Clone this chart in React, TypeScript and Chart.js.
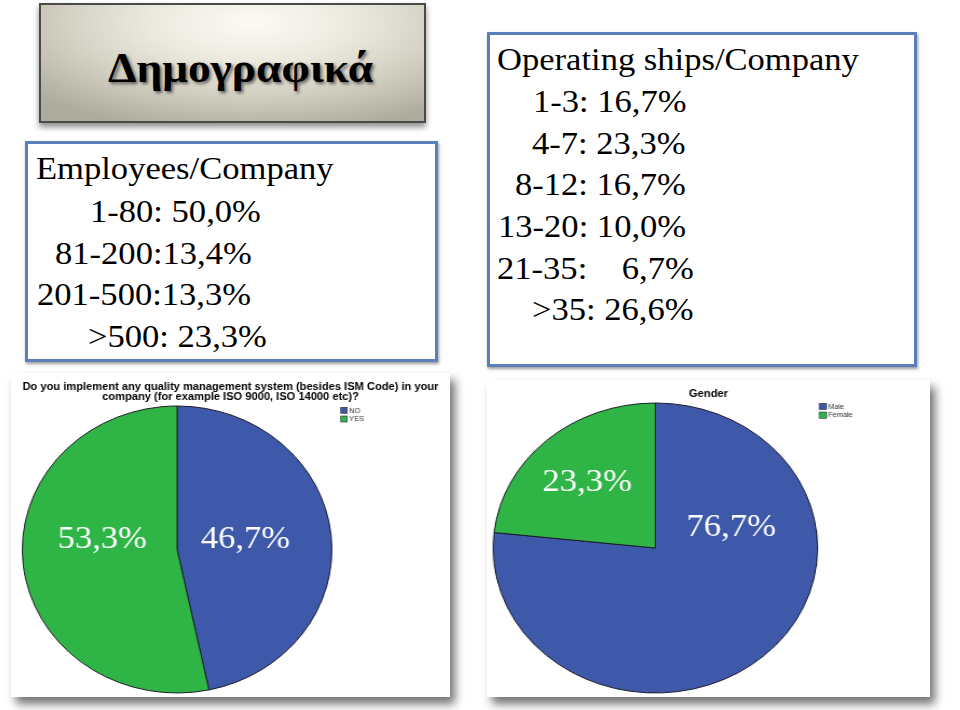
import React, { useEffect, useRef } from 'react';
import { Chart, registerables } from 'chart.js';

Chart.register(...registerables);

// ---------- data ----------
const QMS_TITLE = [
  'Do you implement any quality management system (besides ISM Code) in your',
  'company (for example ISO 9000, ISO 14000 etc)?',
];
const QMS_LABELS = ['NO', 'YES'];
const QMS_VALUES = [46.7, 53.3];
const QMS_TEXTS = ['46,7%', '53,3%'];

const GENDER_TITLE = ['Gender'];
const GENDER_LABELS = ['Male', 'Female'];
const GENDER_VALUES = [76.7, 23.3];
const GENDER_TEXTS = ['76,7%', '23,3%'];

const SLICE_COLORS = ['#3e58aa', '#2fb545'];

const SLIDE_TITLE = 'Δημογραφικά';
const EMPLOYEE_LINES = ['Employees/Company', '1-80: 50,0%', '81-200:13,4%', '201-500:13,3%', '>500: 23,3%'];
const SHIP_LINES = [
  'Operating ships/Company',
  '1-3: 16,7%',
  '4-7: 23,3%',
  '8-12: 16,7%',
  '13-20: 10,0%',
  '21-35:    6,7%',
  '>35: 26,6%',
];

// ---------- layout (not data) ----------
const EMPLOYEE_POS = [
  [36, 179],
  [90, 222],
  [55, 263.5],
  [36.5, 305],
  [88, 346.7],
];
const SHIP_POS = [
  [497, 70],
  [533, 112],
  [531.5, 153.5],
  [515, 195],
  [498, 236.7],
  [497, 278.3],
  [531.5, 320],
];

const SERIF = '"Liberation Serif", "Times New Roman", Times, serif';
const SANS = '"Liberation Sans", Arial, Helvetica, sans-serif';
const TEXT_SX = 1.08;

type PieCfg = {
  labels: string[];
  values: number[];
  texts: string[];
  title: string[];
  titleSize: number;
  titleLineHeight: number;
  titlePadTop: number;
  titlePadBottom: number;
  padBottom: number;
  areaLeft: number;
  areaRight: number;
  labelOffsets: number[][];
  labelSize: number;
  legend: { x: number; y: number; step: number; box: number; textX: number; size: number };
  cw: number;
  ch: number;
  sx: number;
  left: number;
  top: number;
  width: number;
  height: number;
};

function makeAreaPlugin(left: number, right: number) {
  return {
    id: 'pieArea',
    afterLayout(chart: any) {
      const a = chart.chartArea;
      a.left = left;
      a.right = right;
      a.width = right - left;
    },
  };
}

function makeLabelPlugin(texts: string[], offsets: number[][], size: number) {
  return {
    id: 'sliceLabels',
    afterDatasetsDraw(chart: any) {
      const meta = chart.getDatasetMeta(0);
      const ctx = chart.ctx;
      ctx.save();
      ctx.font = `${size}px ${SERIF}`;
      ctx.fillStyle = '#ffffff';
      ctx.textAlign = 'center';
      ctx.textBaseline = 'middle';
      meta.data.forEach((arc: any, i: number) => {
        const p = arc.getProps(['x', 'y', 'outerRadius'], true);
        const o = offsets[i];
        ctx.fillText(texts[i], p.x + o[0] * p.outerRadius, p.y + o[1] * p.outerRadius);
      });
      ctx.restore();
    },
  };
}

function makeLegendPlugin(lg: PieCfg['legend']) {
  return {
    id: 'boxLegend',
    afterDraw(chart: any) {
      const ctx = chart.ctx;
      const ds = chart.data.datasets[0];
      ctx.save();
      chart.data.labels.forEach((lab: string, i: number) => {
        const y = lg.y + i * lg.step;
        ctx.fillStyle = ds.backgroundColor[i];
        ctx.fillRect(lg.x, y, lg.box, lg.box);
        ctx.strokeStyle = '#2a2a3a';
        ctx.lineWidth = 0.6;
        ctx.strokeRect(lg.x, y, lg.box, lg.box);
        ctx.fillStyle = '#333333';
        ctx.font = `${lg.size}px ${SANS}`;
        ctx.textBaseline = 'middle';
        ctx.textAlign = 'left';
        ctx.fillText(lab, lg.textX, y + lg.box / 2 + 0.5);
      });
      ctx.restore();
    },
  };
}

function PiePanel({ cfg }: { cfg: PieCfg }) {
  const ref = useRef<HTMLCanvasElement | null>(null);
  useEffect(() => {
    if (!ref.current) return;
    const chart = new Chart(ref.current, {
      type: 'pie',
      data: {
        labels: cfg.labels,
        datasets: [
          {
            data: cfg.values,
            backgroundColor: SLICE_COLORS,
            borderColor: '#1c1c28',
            borderWidth: 1,
          },
        ],
      },
      options: {
        responsive: false,
        animation: false,
        events: [],
        layout: { padding: { left: 0, right: 0, top: 0, bottom: cfg.padBottom } },
        plugins: {
          legend: { display: false },
          tooltip: { enabled: false },
          title: {
            display: true,
            text: cfg.title,
            color: '#000000',
            font: { family: SANS, size: cfg.titleSize, weight: 'bold', lineHeight: cfg.titleLineHeight },
            padding: { top: cfg.titlePadTop, bottom: cfg.titlePadBottom },
          },
        },
      } as any,
      plugins: [
        makeAreaPlugin(cfg.areaLeft, cfg.areaRight),
        makeLabelPlugin(cfg.texts, cfg.labelOffsets, cfg.labelSize),
        makeLegendPlugin(cfg.legend),
      ],
    });
    return () => chart.destroy();
  }, [cfg]);

  return (
    <div
      style={{
        position: 'absolute',
        left: cfg.left,
        top: cfg.top,
        width: cfg.width,
        height: cfg.height,
        background: '#ffffff',
        boxShadow: '5px 7px 9px rgba(0,0,0,0.55)',
        overflow: 'hidden',
      }}
    >
      <div
        style={{
          position: 'absolute',
          left: 0,
          top: 0,
          width: cfg.cw,
          height: cfg.ch,
          transform: `scaleX(${cfg.sx})`,
          transformOrigin: '0 0',
        }}
      >
        <canvas ref={ref} width={cfg.cw} height={cfg.ch} style={{ width: cfg.cw, height: cfg.ch, display: 'block' }} />
      </div>
    </div>
  );
}

const QMS_CFG: PieCfg = {
  labels: QMS_LABELS,
  values: QMS_VALUES,
  texts: QMS_TEXTS,
  title: QMS_TITLE,
  titleSize: 10.3,
  titleLineHeight: 1.03,
  titlePadTop: 8.4,
  titlePadBottom: 2.9,
  padBottom: 3.5,
  areaLeft: 10,
  areaRight: 298,
  labelOffsets: [
    [0.442, -0.066],
    [-0.484, -0.066],
  ],
  labelSize: 32,
  legend: { x: 305.7, y: 34.3, step: 8.7, box: 6, textX: 313.6, size: 6.8 },
  cw: 407,
  ch: 324,
  sx: 439 / 407,
  left: 11,
  top: 373,
  width: 439,
  height: 324,
};

const GENDER_CFG: PieCfg = {
  labels: GENDER_LABELS,
  values: GENDER_VALUES,
  texts: GENDER_TEXTS,
  title: GENDER_TITLE,
  titleSize: 10,
  titleLineHeight: 1.2,
  titlePadTop: 8,
  titlePadBottom: 2.5,
  padBottom: 3.5,
  areaLeft: 5,
  areaRight: 296,
  labelOffsets: [
    [0.468, -0.138],
    [-0.421, -0.446],
  ],
  labelSize: 31,
  legend: { x: 297, y: 23.3, step: 8.7, box: 6.3, textX: 305, size: 6.6 },
  cw: 396,
  ch: 317,
  sx: 443 / 396,
  left: 487,
  top: 380,
  width: 443,
  height: 317,
};

function TextLine({ text, x, baseline }: { text: string; x: number; baseline: number }) {
  return (
    <div
      style={{
        position: 'absolute',
        left: x,
        top: baseline - 26.8,
        fontFamily: SERIF,
        fontSize: 32,
        lineHeight: '32px',
        whiteSpace: 'pre',
        color: '#000',
        transform: `scaleX(${TEXT_SX})`,
        transformOrigin: '0 0',
      }}
    >
      {text}
    </div>
  );
}

export default function App() {
  return (
    <div
      style={{
        position: 'absolute',
        left: 0,
        top: 0,
        width: 960,
        height: 710,
        background: '#ffffff',
        overflow: 'hidden',
      }}
    >
      {/* title plate */}
      <div
        style={{
          position: 'absolute',
          left: 39,
          top: 3,
          width: 387,
          height: 120,
          boxSizing: 'border-box',
          border: '2px solid #4a4a48',
          background:
            'radial-gradient(ellipse 75% 95% at 55% 15%, #fbfaf5 0%, #eceadf 35%, #cfccbf 70%, #aeab9f 100%)',
          boxShadow: '0 4px 6px rgba(0,0,0,0.45)',
        }}
      />
      <div
        style={{
          position: 'absolute',
          left: 108,
          top: 81.7 - 35.2,
          fontFamily: SERIF,
          fontWeight: 'bold',
          fontSize: 42,
          lineHeight: '42px',
          whiteSpace: 'pre',
          color: '#000',
          textShadow: '2px 2px 3px rgba(0,0,0,0.55)',
          transform: `scaleX(${TEXT_SX})`,
          transformOrigin: '0 0',
        }}
      >
        {SLIDE_TITLE}
      </div>

      {/* employees box */}
      <div
        style={{
          position: 'absolute',
          left: 25,
          top: 141,
          width: 413,
          height: 221,
          boxSizing: 'border-box',
          border: '3px solid #5b7fb8',
          background: '#ffffff',
          boxShadow: '1px 2px 3px rgba(0,0,0,0.4)',
        }}
      />
      {EMPLOYEE_LINES.map((t, i) => (
        <TextLine key={'e' + i} text={t} x={EMPLOYEE_POS[i][0]} baseline={EMPLOYEE_POS[i][1]} />
      ))}

      {/* ships box */}
      <div
        style={{
          position: 'absolute',
          left: 487,
          top: 32,
          width: 430,
          height: 335,
          boxSizing: 'border-box',
          border: '3px solid #5b7fb8',
          background: '#ffffff',
          boxShadow: '1px 2px 3px rgba(0,0,0,0.4)',
        }}
      />
      {SHIP_LINES.map((t, i) => (
        <TextLine key={'s' + i} text={t} x={SHIP_POS[i][0]} baseline={SHIP_POS[i][1]} />
      ))}

      <PiePanel cfg={QMS_CFG} />
      <PiePanel cfg={GENDER_CFG} />
    </div>
  );
}
